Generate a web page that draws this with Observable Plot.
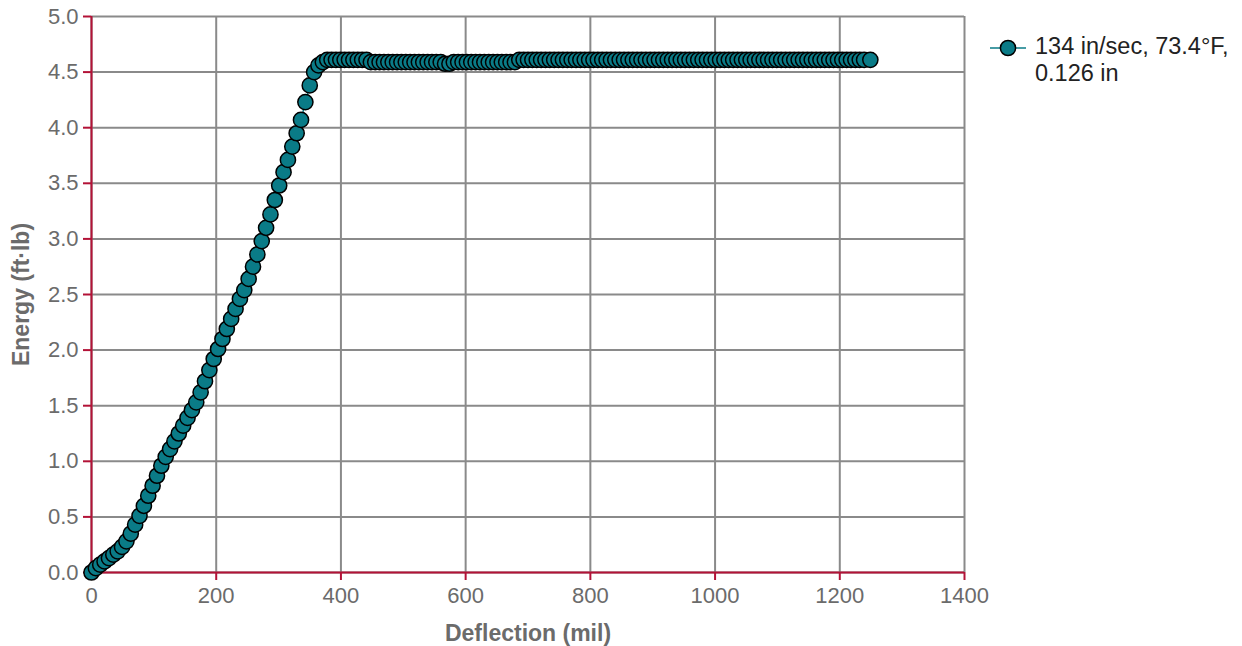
<!DOCTYPE html>
<html><head><meta charset="utf-8">
<script src="https://cdn.jsdelivr.net/npm/d3@7"></script>
<script src="https://cdn.jsdelivr.net/npm/@observablehq/plot@0.6"></script>
<style>
body{margin:0;background:#fff;font-family:"Liberation Sans",Arial,sans-serif;}
#wrap{position:relative;width:1242px;height:646px;}
#legend{position:absolute;left:988px;top:33px;font-size:23.5px;line-height:27px;color:#222;}
#legend svg{position:absolute;left:0;top:0;}
#legend .txt{position:absolute;left:47px;top:0;white-space:nowrap;}
</style></head><body><div id="wrap"></div>
<script>
const deflection = [0,7,14,21,28,35,42,49,56,63,70,77,84,91,98,105,112,119,126,133,140,147,154,161,168,175,182,189,196,203,210,217,224,231,238,245,252,259,266,273,280,287,294,301,308,315,322,329,336,343,350,357,364,371,378,
385,392,399,406,413,420,427,434,441,448,455,462,469,476,483,490,497,504,511,518,525,532,539,546,553,560,567,574,581,588,595,602,609,616,623,630,637,644,651,658,665,672,679,686,693,700,707,714,721,728,735,742,749,756,763,770,777,784,791,798,805,812,819,826,833,840,847,854,861,868,875,882,889,896,903,910,917,924,931,938,945,952,959,966,973,980,987,994,1001,1008,1015,1022,1029,1036,1043,1050,1057,1064,1071,1078,1085,1092,1099,1106,1113,1120,1127,1134,1141,1148,1155,1162,1169,1176,1183,1190,1197,1204,1211,1218,1225,1232,1239,1249];
const energy = [0.00,0.04,0.07,0.10,0.13,0.16,0.19,0.23,0.28,0.35,0.43,0.51,0.60,0.69,0.78,0.87,0.96,1.04,1.11,1.18,1.25,1.32,1.39,1.46,1.53,1.62,1.72,1.82,1.92,2.01,2.10,2.19,2.28,2.37,2.46,2.54,2.64,2.75,2.86,2.98,3.10,3.22,3.35,3.48,3.60,3.71,3.83,3.95,4.07,4.23,4.38,4.50,4.56,4.59,4.61,
4.61,4.61,4.61,4.61,4.61,4.61,4.61,4.61,4.61,
4.59,4.59,4.59,4.59,4.59,4.59,4.59,4.59,4.59,4.59,4.59,4.59,4.59,4.59,4.59,4.59,4.59,
4.575,4.575,
4.59,4.59,4.59,4.59,4.59,4.59,4.59,4.59,4.59,4.59,4.59,4.59,4.59,4.59,4.59,
4.61,4.61,4.61,4.61,4.61,4.61,4.61,4.61,4.61,4.61,4.61,4.61,4.61,4.61,4.61,4.61,4.61,4.61,4.61,4.61,
4.61,4.61,4.61,4.61,4.61,4.61,4.61,4.61,4.61,4.61,4.61,4.61,4.61,4.61,4.61,4.61,4.61,4.61,4.61,4.61,
4.61,4.61,4.61,4.61,4.61,4.61,4.61,4.61,4.61,4.61,4.61,4.61,4.61,4.61,4.61,4.61,4.61,4.61,4.61,4.61,
4.61,4.61,4.61,4.61,4.61,4.61,4.61,4.61,4.61,4.61,4.61,4.61,4.61,4.61,4.61,4.61,4.61,4.61,4.61,4.61,4.61];
const seriesName = ["134 in/sec, 73.4°F,", "0.126 in"];
const xTicks = [0,200,400,600,800,1000,1200,1400];
const yTicks = [0,0.5,1,1.5,2,2.5,3,3.5,4,4.5,5];
const xTitle = "Deflection (mil)";
const yTitle = "Energy (ft·lb)";

const teal = "#0a7b87", crimson = "#b31237", gridGray = "#8a8a8a", textGray = "#6b6b6b";
const data = deflection.map((d, i) => ({x: d, y: energy[i]}));

const chart = Plot.plot({
  width: 1242, height: 646,
  marginLeft: 91, marginRight: 278, marginTop: 16, marginBottom: 74,
  style: {fontFamily: '"Liberation Sans", Arial, sans-serif', fontSize: "22px", background: "white", overflow: "visible"},
  x: {domain: [0, 1400], label: null},
  y: {domain: [0, 5], label: null},
  marks: [
    Plot.gridX(xTicks, {stroke: gridGray, strokeOpacity: 1, strokeWidth: 2}),
    Plot.gridY(yTicks, {stroke: gridGray, strokeOpacity: 1, strokeWidth: 2}),
    Plot.axisX(xTicks, {tickSize: 8, stroke: crimson, strokeWidth: 2, tickFormat: () => "", label: null}),
    Plot.axisX(xTicks, {tickSize: 0, tickPadding: 15, fill: textGray, label: null, fontSize: 22, tickFormat: d => String(d)}),
    Plot.axisY(yTicks, {tickSize: 8, stroke: crimson, strokeWidth: 2, tickFormat: () => "", label: null}),
    Plot.axisY(yTicks, {tickSize: 0, tickPadding: 13, fill: textGray, label: null, fontSize: 22, tickFormat: d3.format(".1f")}),
    Plot.ruleX([0], {stroke: crimson, strokeWidth: 2}),
    Plot.ruleY([0], {stroke: crimson, strokeWidth: 2}),
    Plot.line(data, {x: "x", y: "y", stroke: teal, strokeWidth: 1.5}),
    Plot.dot(data, {x: "x", y: "y", r: 7.6, fill: teal, stroke: "black", strokeWidth: 1.5}),
    Plot.text([xTitle], {frameAnchor: "bottom", dy: 61, fill: textGray, fontWeight: "bold", fontSize: 23, textAnchor: "middle", lineAnchor: "middle"}),
    Plot.text([yTitle], {frameAnchor: "left", dx: -70, rotate: -90, fill: textGray, fontWeight: "bold", fontSize: 23, textAnchor: "middle", lineAnchor: "middle"})
  ]
});
const wrap = document.getElementById("wrap");
wrap.appendChild(chart);

const legend = document.createElement("div");
legend.id = "legend";
legend.innerHTML = `<svg width="44" height="30"><line x1="2" y1="15" x2="38" y2="15" stroke="${teal}" stroke-width="1.5"/><circle cx="20" cy="15" r="7.6" fill="${teal}" stroke="black" stroke-width="1.5"/></svg><div class="txt">${seriesName.join("<br>")}</div>`;
wrap.appendChild(legend);
</script>
</body></html>
